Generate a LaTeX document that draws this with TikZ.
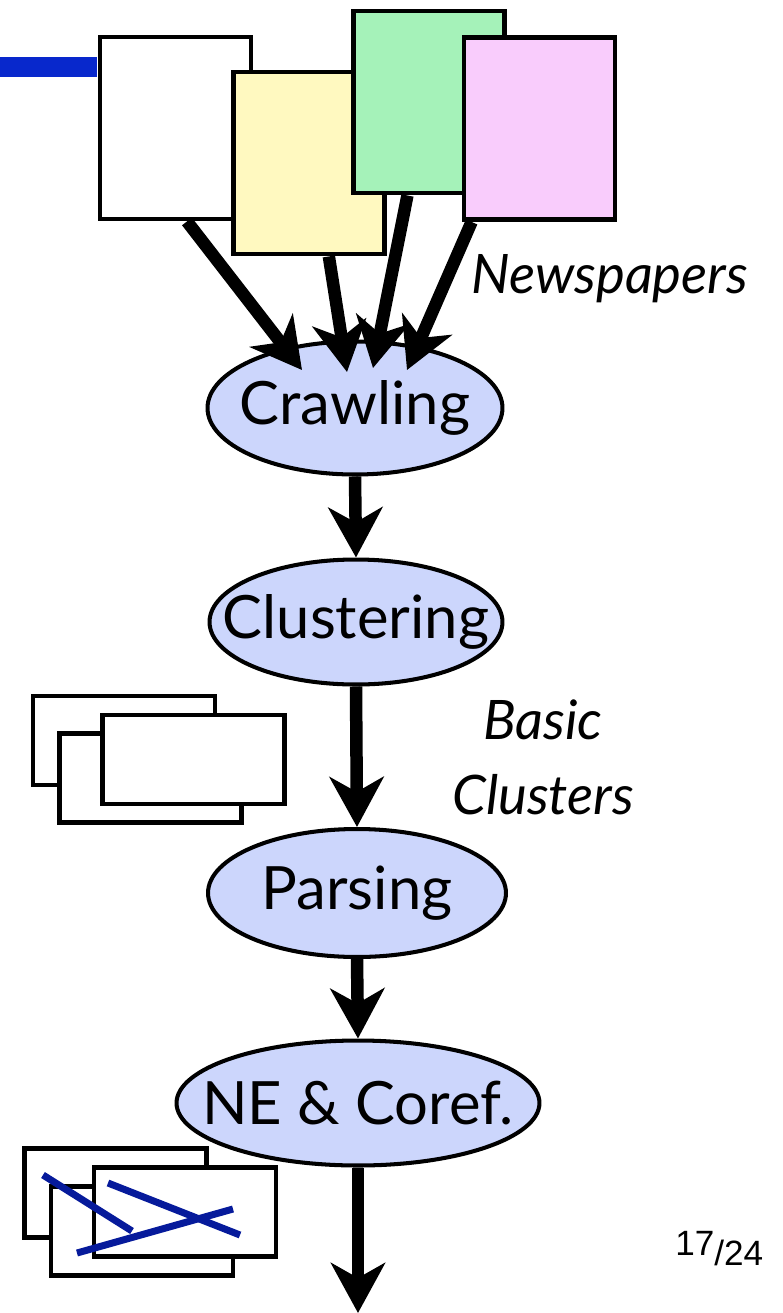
\documentclass[tikz,border=0pt]{standalone}
\usepackage{fontspec}
\setmainfont{Lato}
\newfontfamily\pagefont{Liberation Sans}
\usetikzlibrary{shapes.geometric,arrows.meta,calc}
\definecolor{stageblue}{RGB}{204,214,252}
\definecolor{paperyellow}{RGB}{255,249,192}
\definecolor{papergreen}{RGB}{165,242,185}
\definecolor{paperpink}{RGB}{249,204,252}
\definecolor{wireblue}{RGB}{8,40,204}
\definecolor{strikeblue}{RGB}{6,26,155}
\tikzset{
stage/.style={
	ellipse,
	draw,
	fill=stageblue,
	inner sep=0pt,
	line width=2.3pt,
	font=\fontsize{34}{40}\selectfont
}
}
\tikzset{
paper/.style={
	draw,
	rectangle,
	inner sep=0pt,
	minimum width=3.02cm,
	minimum height=3.64cm,
	line width=2.8pt
}
}
\tikzset{
sheet/.style={
	draw,
	fill=white,
	inner sep=0pt,
	minimum width=3.64cm,
	minimum height=1.78cm,
	line width=2.8pt
}
}
\tikzset{
flow/.style={
	-{Stealth[length=1cm,width=1.08cm,inset=0.3cm]},
	line width=0.25cm
},
wire/.style={wireblue, line width=0.4cm},
strike/.style={strikeblue, line width=0.14cm},
note/.style={inner sep=0pt, font=\itshape\fontsize{31}{42.7}\selectfont},
pagenum/.style={inner sep=0pt, font=\pagefont\fontsize{20}{24}\selectfont}
}

\begin{document}
\begin{tikzpicture}[x=0.02cm, y=-0.02cm]
\useasboundingbox (0,0) rectangle (782,1313);

\node[paper, fill=white] (white) at (175.5,128) {};
\node[paper, fill=paperyellow] (yellow) at (309,163) {};
\node[paper, fill=papergreen] (green) at (429,102) {};
\node[paper, fill=paperpink] (pink) at (539.5,128.5) {};

\coordinate (feedin) at (0,67);
\draw[wire, shorten >=0.6pt] (feedin) -- (feedin -| white.west);

\node[stage, minimum width=5.9cm, minimum height=2.66cm] (crawl) at (355,408) {\makebox[0pt]{Crawling}};
\node[stage, minimum width=5.86cm, minimum height=2.5cm] (clust) at (356,622) {\makebox[0pt]{Clustering}};
\node[stage, minimum width=5.96cm, minimum height=2.56cm] (parse) at (357,893) {\makebox[0pt]{Parsing}};
\node[stage, minimum width=7.26cm, minimum height=2.5cm] (ne) at (358,1103) {\makebox[0pt]{NE \& Coref.}};

\node[sheet] (clA) at (124,740.5) {};
\node[sheet] (clB) at (150.5,778) {};
\node[sheet] (clC) at (193.5,759.5) {};

\node[sheet] (rjA) at (115.5,1193) {};
\node[sheet] (rjB) at (142,1231) {};
\node[sheet] (rjC) at (185,1212) {};
\draw[strike] (43,1175) -- (132,1231);
\draw[strike] (108,1183) -- (240,1235);
\draw[strike] (77,1253) -- (233,1209);

\draw[flow] (white.-83) -- ($(crawl.center)+(-53,-38)$);
\draw[flow] (yellow.-78) -- ($(crawl.center)+(-8,-36)$);
\draw[flow] (green.-103) -- ($(crawl.center)+(18,-40)$);
\draw[flow] (pink.-126) -- ($(crawl.center)+(52,-38)$);

\draw[flow] (crawl.south) -- (clust.north);
\draw[flow] (clust.south) -- (parse.north);
\draw[flow] (parse.south) -- (ne.north);
\coordinate (out) at (358,1313);
\draw[flow] (ne.south) -- (out);

\node[note, anchor=base west] (papers) at (471,293) {Newspapers};
\node[note, align=center] (basic) at (543,757) {Basic\\Clusters};

\node[pagenum, anchor=base west] (pnum) at (675,1255) {17\raisebox{-5.7pt}{/24}};
\end{tikzpicture}
\end{document}
